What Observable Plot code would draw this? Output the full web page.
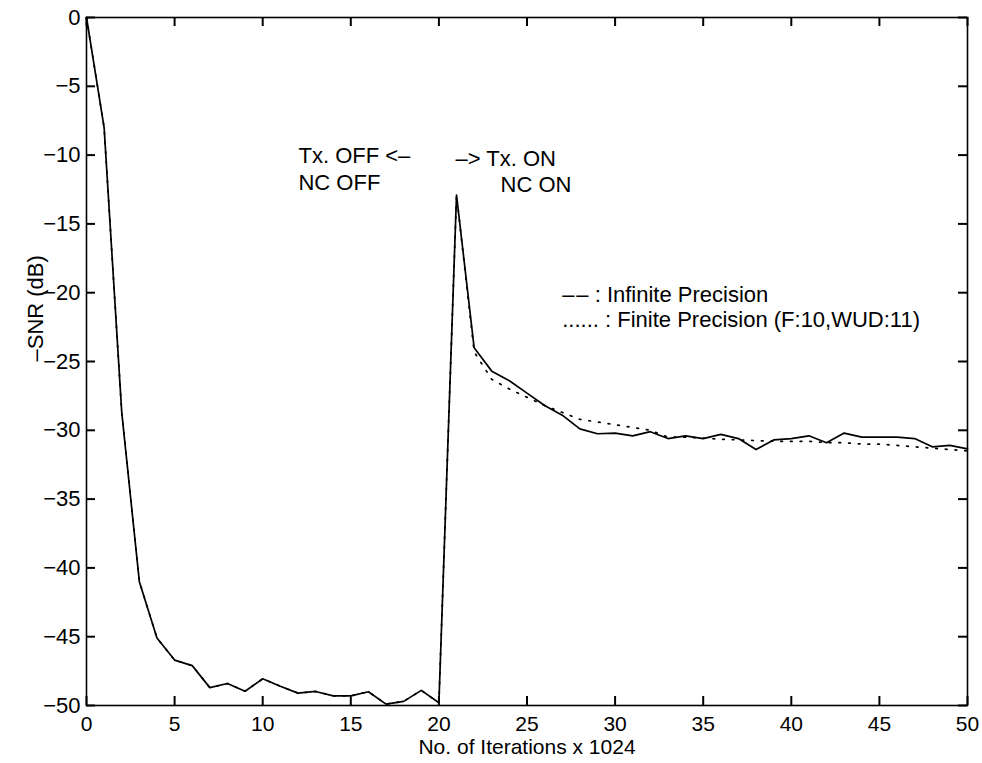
<!DOCTYPE html>
<html><head><meta charset="utf-8">
<script src="https://cdn.jsdelivr.net/npm/d3@7"></script>
<script src="https://cdn.jsdelivr.net/npm/@observablehq/plot@0.6"></script>
<style>body{margin:0;background:#fff}</style>
</head><body><div id="chart"></div><script>
const iterations = [0,1,2,3,4,5,6,7,8,9,10,11,12,13,14,15,16,17,18,19,20,21,22,23,24,25,26,27,28,29,30,31,32,33,34,35,36,37,38,39,40,41,42,43,44,45,46,47,48,49,50];
const infinitePrecision = [0,-8,-28.7,-41,-45.1,-46.7,-47.1,-48.7,-48.4,-48.96,-48.06,-48.6,-49.1,-48.98,-49.3,-49.3,-49.0,-49.9,-49.7,-48.9,-49.8,-12.9,-24,-25.7,-26.4,-27.3,-28.2,-28.9,-29.9,-30.25,-30.2,-30.4,-30.1,-30.6,-30.4,-30.6,-30.3,-30.6,-31.4,-30.7,-30.6,-30.4,-30.9,-30.2,-30.5,-30.5,-30.5,-30.6,-31.2,-31.1,-31.35];
const finitePrecision = [0,-8,-28.7,-41,-45.1,-46.7,-47.1,-48.7,-48.4,-48.96,-48.06,-48.6,-49.1,-48.98,-49.3,-49.3,-49.0,-49.9,-49.7,-48.9,-49.8,-12.9,-24.3,-26.3,-27.0,-27.6,-28.2,-28.7,-29.2,-29.4,-29.6,-29.8,-30.0,-30.5,-30.5,-30.57,-30.65,-30.7,-30.75,-30.8,-30.8,-30.8,-30.9,-30.9,-31.0,-31.0,-31.1,-31.2,-31.3,-31.4,-31.5];
const xTicks = [0,5,10,15,20,25,30,35,40,45,50];
const yTicks = [0,-5,-10,-15,-20,-25,-30,-35,-40,-45,-50];
const xLabel = "No. of Iterations x 1024";
const yLabel = "\u2013SNR (dB)";
const annotationText = ["Tx. OFF <\u2013", "NC OFF", "\u2013> Tx. ON", "NC ON", "\u2013\u200a\u2013 : Infinite Precision", "...... : Finite Precision (F:10,WUD:11)"];
const annotationX = [12.03, 12.03, 20.94, 23.5, 27.0, 27.0];
const annotationY = [-10.07, -12.06, -10.25, -12.2, -20.2, -21.95];

const inf = iterations.map((x, i) => ({x, y: infinitePrecision[i]}));
const fin = iterations.map((x, i) => ({x, y: finitePrecision[i]}));
const ann = annotationText.map((t, i) => ({t, x: annotationX[i], y: annotationY[i]}));

const W = 982, H = 763, ML = 86, MR = 15, MT = 17, MB = 58;
const TICK = 9;
const innerW = W - ML - MR, innerH = H - MT - MB;
const tickStyle = {stroke: "#000", strokeWidth: 2};

const chart = Plot.plot({
  width: W, height: H,
  marginLeft: ML, marginRight: MR, marginTop: MT, marginBottom: MB,
  style: {fontFamily: "'Liberation Sans', Arial, Helvetica, sans-serif", fontSize: "22px", background: "#fff", color: "#000", overflow: "visible"},
  x: {domain: [0, 50]},
  y: {domain: [-50, 0]},
  marks: [
    Plot.frame({stroke: "#000", strokeWidth: 1.6}),
    Plot.axisX({ticks: xTicks, anchor: "bottom", tickSize: 0, tickPadding: 11, label: null, fontSize: 21}),
    Plot.axisY({ticks: yTicks, anchor: "left", tickSize: 0, tickPadding: 6, label: null}),
    // inward ticks on all four sides
    Plot.ruleX(xTicks, {x: d => d, insetTop: innerH - TICK, ...tickStyle}),
    Plot.ruleX(xTicks, {x: d => d, insetBottom: innerH - TICK, ...tickStyle}),
    Plot.ruleY(yTicks, {y: d => d, insetRight: innerW - TICK, ...tickStyle}),
    Plot.ruleY(yTicks, {y: d => d, insetLeft: innerW - TICK, ...tickStyle}),
    Plot.line(fin, {x: "x", y: "y", stroke: "#000", strokeWidth: 1.7, strokeDasharray: "1.7,8"}),
    Plot.line(inf, {x: "x", y: "y", stroke: "#000", strokeWidth: 1.7}),
    Plot.text([xLabel], {frameAnchor: "bottom", dy: 48, text: d => d, fill: "#000", fontSize: 21}),
    Plot.text([yLabel], {frameAnchor: "left", dx: -51, rotate: -90, text: d => d, fill: "#000"}),
    Plot.text(ann, {x: "x", y: "y", text: "t", textAnchor: "start", fill: "#000"})
  ]
});
document.getElementById("chart").appendChild(chart);
</script></body></html>
